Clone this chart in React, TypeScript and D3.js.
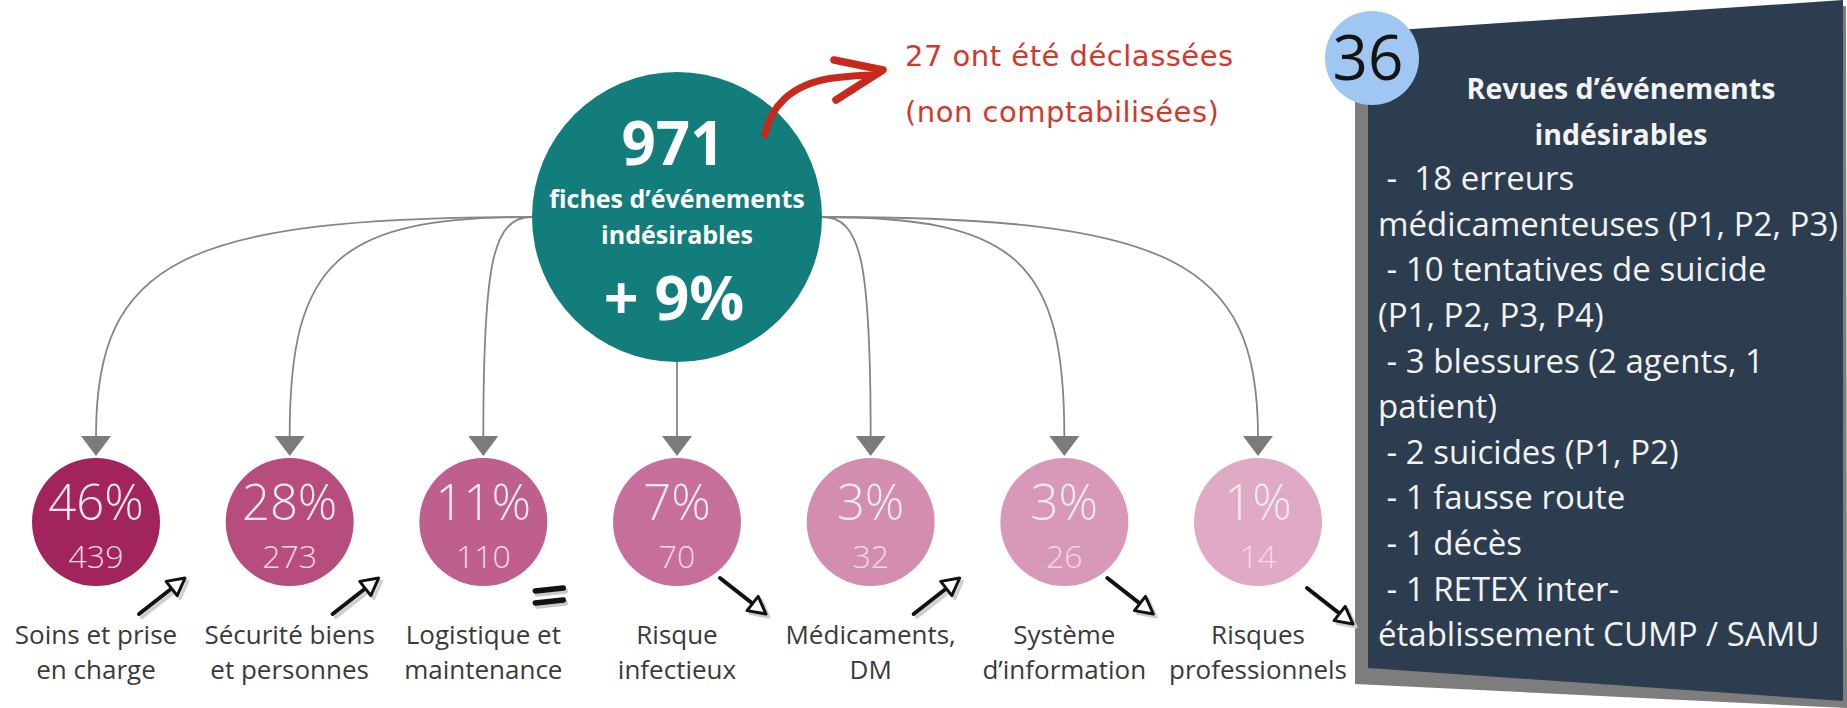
import React, { useEffect } from "react";
import * as d3 from "d3";

// ---------- DATA ----------
const totalFiches = 971;
const totalChange = "+ 9%";
const declassees = 27;
const categoryLabels: string[][] = [
  ["Soins et prise", "en charge"],
  ["Sécurité biens", "et personnes"],
  ["Logistique et", "maintenance"],
  ["Risque", "infectieux"],
  ["Médicaments,", "DM"],
  ["Système", "d’information"],
  ["Risques", "professionnels"],
];
const percents = [46, 28, 11, 7, 3, 3, 1];
const counts = [439, 273, 110, 70, 32, 26, 14];
const trends = ["up", "up", "equal", "down", "up", "down", "down"];
const reviewsTotal = 36;
const reviewTitle = ["Revues d’événements", "indésirables"];
const reviewLines = [
  " -  18 erreurs",
  "médicamenteuses (P1, P2, P3)",
  " - 10 tentatives de suicide",
  "(P1, P2, P3, P4)",
  " - 3 blessures (2 agents, 1",
  "patient)",
  " - 2 suicides (P1, P2)",
  " - 1 fausse route",
  " - 1 décès",
  " - 1 RETEX inter-",
  "établissement CUMP / SAMU",
];

// ---------- STYLE ----------
const bubbleColors = ["#a2245c", "#b64d7d", "#bf5f8e", "#c76f9b", "#d28daf", "#d898b7", "#e0a9c4"];
const FONT = "'Open Sans', 'Noto Sans', sans-serif";
const W = 1847;
const H = 708;

export default function App() {
  useEffect(() => {
    document.body.style.margin = "0";
    document.body.style.overflow = "hidden";
  }, []);

  const main = { cx: 677, cy: 217, r: 145 };
  const x = d3
    .scalePoint<number>()
    .domain(d3.range(percents.length))
    .range([96, 1258]);
  const bubbleCy = 522;
  const bubbleR = 64;
  const tipY = 456;
  const headH = 20;
  const headW = 15;
  const baseY = tipY - headH;

  const k = 0.8;
  const linkPath = (xt: number) => {
    if (Math.abs(xt - main.cx) < 12) {
      return `M${xt},${main.cy + main.r} L${xt},${baseY}`;
    }
    const x0 = xt < main.cx ? main.cx - main.r : main.cx + main.r;
    const y0 = main.cy;
    const p = d3.path();
    p.moveTo(x0, y0);
    p.bezierCurveTo(x0 + (xt - x0) * k, y0, xt, baseY - (baseY - y0) * k, xt, baseY);
    return p.toString();
  };

  const trendMark = (t: string, cx: number, cy: number, i: number) => {
    const elems: React.ReactNode[] = [];
    if (t === "equal") {
      const draw = (dx: number, dy: number, col: string, key: string) => (
        <g key={key} stroke={col} strokeWidth={5.5} strokeLinecap="round">
          <line x1={cx - 14 + dx} y1={cy - 5 + dy} x2={cx + 14 + dx} y2={cy - 8 + dy} />
          <line x1={cx - 14 + dx} y1={cy + 7 + dy} x2={cx + 14 + dx} y2={cy + 4 + dy} />
        </g>
      );
      elems.push(draw(2, 3, "#c9c9c9", "s"));
      elems.push(draw(0, 0, "#111", "m"));
      return <g key={`t${i}`}>{elems}</g>;
    }
    const dir = t === "up" ? -1 : 1;
    const tail: [number, number] = [cx - 23, cy - dir * 18];
    const head: [number, number] = [cx + 23, cy + dir * 18];
    const ang = Math.atan2(head[1] - tail[1], head[0] - tail[0]);
    const ux = Math.cos(ang), uy = Math.sin(ang);
    const px = -uy, py = ux;
    const hl = 17, hw = 9;
    const bx = head[0] - ux * hl, by = head[1] - uy * hl;
    const draw = (dx: number, dy: number, col: string, fill: string, key: string) => (
      <g key={key}>
        <line
          x1={tail[0] + dx} y1={tail[1] + dy} x2={bx + ux * 2 + dx} y2={by + uy * 2 + dy}
          stroke={col} strokeWidth={4} strokeLinecap="round"
        />
        <path
          d={`M${bx + px * hw + dx},${by + py * hw + dy} L${head[0] + dx},${head[1] + dy} L${bx - px * hw + dx},${by - py * hw + dy} Z`}
          stroke={col} strokeWidth={3} fill={fill} strokeLinejoin="round"
        />
      </g>
    );
    elems.push(draw(3, 3, "#cfcfcf", "#e6e6e6", "s"));
    elems.push(draw(0, 0, "#111", "#ffffff", "m"));
    return <g key={`t${i}`}>{elems}</g>;
  };

  const navy = "#2c3d4f";
  const panelLineStart = 99;
  const panelStep = 45.6;
  const lastIdx = percents.length - 1;

  return (
    <svg width={W} height={H} style={{ position: "absolute", left: 0, top: 0, background: "#fff" }} fontFamily={FONT}>
      <rect x={0} y={0} width={W} height={H} fill="#ffffff" />

      {/* links */}
      {percents.map((_, i) => (
        <g key={`l${i}`}>
          <path d={linkPath(x(i)!)} fill="none" stroke="#858585" strokeWidth={1.8} />
          <path
            d={`M${x(i)! - headW},${baseY} L${x(i)! + headW},${baseY} L${x(i)!},${tipY} Z`}
            fill="#7b7b7b"
          />
        </g>
      ))}

      {/* main circle */}
      <circle cx={main.cx} cy={main.cy} r={main.r} fill="#127d7a" />
      <text x={main.cx - 4} y={165} textAnchor="middle" fill="#fff" fontWeight={700} fontSize={60}>
        {totalFiches}
      </text>
      <text x={main.cx} y={208} textAnchor="middle" fill="#fff" fontWeight={700} fontSize={25}>
        fiches d’événements
      </text>
      <text x={main.cx} y={244} textAnchor="middle" fill="#fff" fontWeight={700} fontSize={25}>
        indésirables
      </text>
      <text x={main.cx - 3} y={320} textAnchor="middle" fill="#fff" fontWeight={700} fontSize={61}>
        {totalChange}
      </text>

      {/* red annotation */}
      <g stroke="#c8291d" fill="none" strokeLinecap="round" strokeLinejoin="round">
        <path d="M765,135 C770,108 790,84 833,78 C850,76 862,75 874,75" strokeWidth={7} />
        <path d="M834,60 L883,70 L836,100" strokeWidth={7.5} />
      </g>
      <text x={905} y={66} fill="#d0392c" fontSize={29} fontFamily="'DejaVu Sans', sans-serif" letterSpacing={0.5}>
        {`${declassees} ont été déclassées`}
      </text>
      <text x={905} y={122} fill="#d0392c" fontSize={29} fontFamily="'DejaVu Sans', sans-serif" letterSpacing={0.5}>
        (non comptabilisées)
      </text>

      {/* right panel */}
      <polygon points="1355,46 1846,6 1847,708 1355,684" fill="#7d7d7d" />
      <polygon points="1368,32 1843,0 1843,701 1368,668" fill={navy} />
      <circle cx={1372} cy={58} r={47} fill="#9fc7f1" />
      <text x={1368} y={80} textAnchor="middle" fill="#141414" fontSize={62}>
        {reviewsTotal}
      </text>
      {reviewTitle.map((t, i) => (
        <text key={`rt${i}`} x={1621} y={panelLineStart + i * panelStep} textAnchor="middle" fill="#f4f4f4" fontWeight={700} fontSize={28.5}>
          {t}
        </text>
      ))}
      {reviewLines.map((t, i) => (
        <text
          key={`rl${i}`}
          x={1378}
          y={panelLineStart + (i + 2) * panelStep}
          fill="#f2f2f2"
          fontSize={33}
          style={{ whiteSpace: "pre" }}
        >
          {t}
        </text>
      ))}

      {/* bubbles */}
      {percents.map((p, i) => (
        <g key={`b${i}`}>
          <circle cx={x(i)!} cy={bubbleCy} r={bubbleR} fill={bubbleColors[i]} />
          <text x={x(i)!} y={bubbleCy - 2} textAnchor="middle" fill="#fbeaf2" fontSize={49} fontWeight={300}>
            {`${p}%`}
          </text>
          <text x={x(i)!} y={bubbleCy + 46} textAnchor="middle" fill="#f6d9e6" fontSize={32} fontWeight={300}>
            {counts[i]}
          </text>
          {categoryLabels[i].map((ln, j) => (
            <text key={j} x={x(i)!} y={644 + j * 35} textAnchor="middle" fill="#3a3a3a" fontSize={26}>
              {ln}
            </text>
          ))}
          {trendMark(
            trends[i],
            x(i)! + (i === lastIdx ? 72 : 66),
            bubbleCy + (i === lastIdx ? 84 : 74),
            i
          )}
        </g>
      ))}
    </svg>
  );
}
